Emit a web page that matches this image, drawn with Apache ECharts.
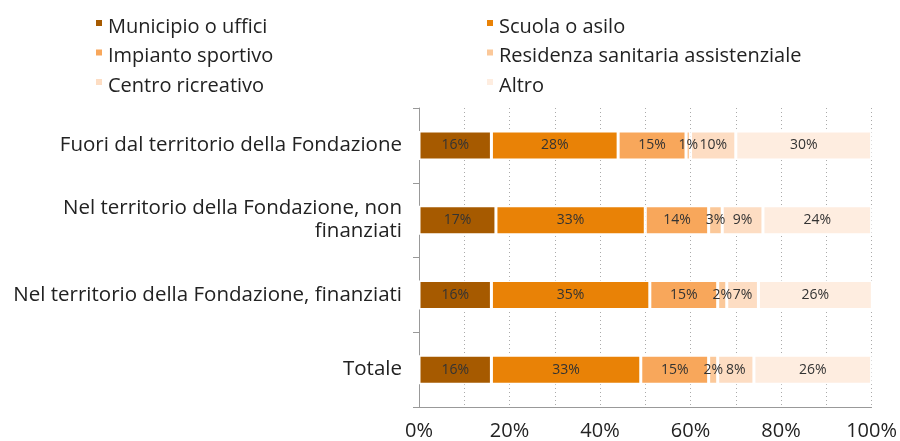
<!DOCTYPE html>
<html>
<head>
<meta charset="utf-8">
<script src="https://cdn.jsdelivr.net/npm/echarts@6/dist/echarts.min.js"></script>
<style>
  html, body { margin: 0; padding: 0; background: #fff; }
  #chart { width: 900px; height: 441px; }
</style>
</head>
<body>
<div id="chart"></div>
<script>
// categories, top to bottom
var categories = [
    'Fuori dal territorio della Fondazione',
    'Nel territorio della Fondazione, non\nfinanziati',
    'Nel territorio della Fondazione, finanziati',
    'Totale'
];

var seriesNames = ['Municipio o uffici', 'Scuola o asilo', 'Impianto sportivo',
    'Residenza sanitaria assistenziale', 'Centro ricreativo', 'Altro'];

var municipio = [16, 17, 16, 16];
var scuola    = [28, 33, 35, 33];
var impianto  = [15, 14, 15, 15];
var residenza = [1, 3, 2, 2];
var centro    = [10, 9, 7, 8];
var altro     = [30, 24, 26, 26];

var colors = ['#A65A00', '#E98206', '#F8A75B', '#FBC899', '#FDDDC3', '#FEEDE0'];

var allData = [municipio, scuola, impianto, residenza, centro, altro];
var fontFamily = '"Open Sans", sans-serif';

var mychart = echarts.init(document.getElementById('chart'));

var series = seriesNames.map(function (name, i) {
    return {
        name: name,
        type: 'bar',
        stack: 'tot',
        barWidth: 29,
        data: allData[i],
        itemStyle: { color: colors[i], borderColor: '#fff', borderWidth: 1.5 },
        label: {
            show: true,
            position: 'inside',
            color: '#333',
            fontSize: 14,
            fontFamily: fontFamily,
            formatter: function (p) { return p.value + '%'; }
        }
    };
});

// small square sitting in the upper half of the item
var legendIcon = 'path://M0,0h7v7h-7zM0,14';

function legend(names, left) {
    return {
        orient: 'vertical',
        left: left,
        top: 12,
        itemGap: 9.5,
        itemWidth: 8,
        itemHeight: 16,
        icon: legendIcon,
        data: names,
        textStyle: {
            fontSize: 20,
            lineHeight: 20,
            color: '#222',
            fontFamily: fontFamily
        }
    };
}

var option = {
    backgroundColor: '#fff',
    animation: false,
    color: colors,
    legend: [
        legend([seriesNames[0], seriesNames[2], seriesNames[4]], 89),
        legend([seriesNames[1], seriesNames[3], seriesNames[5]], 480)
    ],
    grid: {
        left: 419,
        right: 27,
        top: 108,
        bottom: 34,
        containLabel: false
    },
    xAxis: {
        type: 'value',
        min: 0,
        max: 100,
        interval: 10,
        axisLine: { show: true, lineStyle: { color: '#999' } },
        axisTick: { show: false },
        splitLine: { show: true, lineStyle: { color: '#aaa', type: [1, 3] } },
        axisLabel: {
            color: '#222',
            fontSize: 20,
            fontFamily: fontFamily,
            margin: 14,
            formatter: function (v) { return v % 20 === 0 ? v + '%' : ''; }
        }
    },
    yAxis: {
        type: 'category',
        inverse: true,
        data: categories,
        axisLine: { show: true, lineStyle: { color: '#999' } },
        axisTick: { show: true, length: 6, lineStyle: { color: '#999' } },
        axisLabel: {
            color: '#222',
            fontSize: 20.5,
            fontFamily: fontFamily,
            margin: 17,
            lineHeight: 23,
            align: 'right'
        }
    },
    series: series
};

mychart.setOption(option, true);
</script>
</body>
</html>
